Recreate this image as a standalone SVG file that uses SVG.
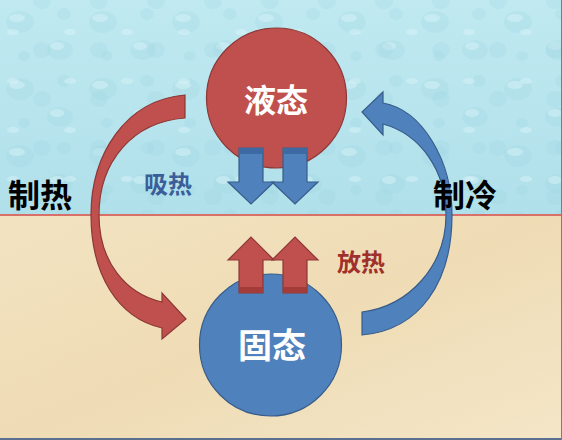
<svg xmlns="http://www.w3.org/2000/svg" width="562" height="440" viewBox="0 0 562 440">
  <defs>
    <style>
      .lbl { font-family: "Noto Sans CJK SC", "Noto Sans", sans-serif; font-weight: bold; text-anchor: middle; }
      .white { fill: #ffffff; }
      .redfill { fill: #c0504d; stroke: #8c3836; stroke-width: 1.2; }
      .bluefill { fill: #4f81bd; stroke: #385d8a; stroke-width: 1.2; }
      .drop { fill: #dcf4f8; opacity: 0.45; }
      .dropd { fill: #9dd3df; opacity: 0.25; }
    </style>
    <linearGradient id="sky" x1="0" y1="0" x2="0" y2="1">
      <stop offset="0" stop-color="#c0e9f1"/>
      <stop offset="1" stop-color="#b0e0ea"/>
    </linearGradient>
    <linearGradient id="sand" x1="0" y1="0" x2="1" y2="1">
      <stop offset="0" stop-color="#f3e3c1"/>
      <stop offset="0.5" stop-color="#efdcb5"/>
      <stop offset="1" stop-color="#f4e6c8"/>
    </linearGradient>
    <pattern id="drops" width="83" height="67" patternUnits="userSpaceOnUse">
      <ellipse class="dropd" cx="20" cy="22" rx="14" ry="11"/>
      <ellipse class="drop" cx="17" cy="18" rx="8" ry="4"/>
      <ellipse class="dropd" cx="60" cy="50" rx="13" ry="10"/>
      <ellipse class="drop" cx="57" cy="46" rx="7" ry="4"/>
      <ellipse class="dropd" cx="64" cy="14" rx="7" ry="6"/>
      <ellipse class="dropd" cx="24" cy="56" rx="6" ry="5"/>
    </pattern>
    <pattern id="drops2" x="30" y="20" width="57" height="49" patternUnits="userSpaceOnUse">
      <ellipse class="dropd" cx="12" cy="30" rx="9" ry="8"/>
      <ellipse class="drop" cx="40" cy="12" rx="6" ry="3"/>
    </pattern>
    <filter id="grain" x="0" y="0" width="100%" height="100%">
      <feTurbulence type="fractalNoise" baseFrequency="0.035" numOctaves="3" seed="4" result="n"/>
      <feColorMatrix in="n" type="matrix" values="0 0 0 0 0.86  0 0 0 0 0.74  0 0 0 0 0.52  0 0 0 0.4 -0.1"/>
    </filter>
  </defs>

  <g id="background">
    <rect x="0" y="0" width="562" height="215" fill="url(#sky)"/>
    <rect x="0" y="0" width="562" height="215" fill="url(#drops)"/>
    <rect x="0" y="0" width="562" height="215" fill="url(#drops2)"/>
    <rect x="0" y="215" width="562" height="225" fill="url(#sand)"/>
    <rect x="0" y="215" width="562" height="225" filter="url(#grain)" opacity="0.35"/>
    <line x1="0" y1="215" x2="562" y2="215" stroke="#d86f68" stroke-width="2"/>
    <line x1="0" y1="439" x2="562" y2="439" stroke="#5b6f8f" stroke-width="2"/>
    <line x1="561.5" y1="0" x2="561.5" y2="440" stroke="#6f7f99" stroke-width="1"/>
  </g>

  <g id="liquid">
    <circle cx="276.5" cy="98" r="70" class="redfill"/>
    <text x="276" y="112" class="lbl white" font-size="32">液态</text>
  </g>

  <g id="solid">
    <circle cx="270.5" cy="345" r="71" class="bluefill"/>
    <text x="272" y="358" class="lbl white" font-size="34">固态</text>
  </g>

  <g id="connectors">
    <g id="absorb-arrows">
      <path class="bluefill" d="M239,148 L263,148 L263,182 L274,182 L251,204 L228,182 L239,182 Z"/>
      <rect x="239" y="148" width="24" height="6" fill="#3d6aa3"/>
      <path class="bluefill" d="M283,148 L307,148 L307,182 L318,182 L295,204 L272,182 L283,182 Z"/>
      <rect x="283" y="148" width="24" height="6" fill="#3d6aa3"/>
    </g>
    <g id="release-arrows">
      <path class="redfill" d="M239,293 L263,293 L263,260 L274,260 L251,237 L228,260 L239,260 Z"/>
      <rect x="239" y="287" width="24" height="6" fill="#a33c39"/>
      <path class="redfill" d="M283,293 L307,293 L307,260 L318,260 L295,237 L272,260 L283,260 Z"/>
      <rect x="283" y="287" width="24" height="6" fill="#a33c39"/>
    </g>
    <path id="heating-arrow" class="redfill" d="M185,95 C125,100 91,155 91,215 C91,275 118,318 162,328 L162,339 L186,319 L162,293 L162,302 C126,294 99,262 99,215 C99,162 132,122 185,118 Z"/>
    <path id="cooling-arrow" class="bluefill" d="M383,103 C422,110 452,160 452,215 C452,282 420,330 362,335 L362,312 C410,306 446,265 446,215 C446,170 420,134 383,124 L383,135 L362,112 L383,92 Z"/>
  </g>

  <g id="label-absorb">
    <text x="168" y="193" class="lbl" font-size="24" fill="#3b5e99">吸热</text>
  </g>
  <g id="label-release">
    <text x="361" y="271" class="lbl" font-size="24" fill="#a0302c">放热</text>
  </g>
  <g id="label-heating">
    <text x="40" y="207" class="lbl" font-size="32" fill="#000000">制热</text>
  </g>
  <g id="label-cooling">
    <text x="465" y="207" class="lbl" font-size="32" fill="#000000">制冷</text>
  </g>
</svg>
